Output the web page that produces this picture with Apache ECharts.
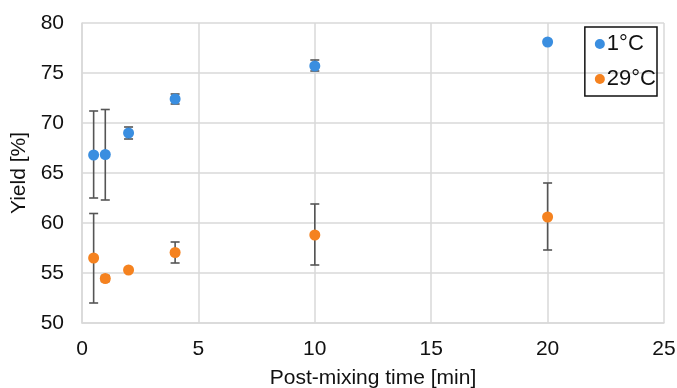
<!DOCTYPE html>
<html>
<head>
<meta charset="utf-8">
<script src="https://cdn.jsdelivr.net/npm/echarts@6/dist/echarts.min.js"></script>
<style>
  html, body { margin: 0; padding: 0; background: #fff; }
  #chart { width: 677px; height: 388px; }
</style>
</head>
<body>
<div id="chart"></div>
<script>
// post-mixing time [min]
var times = [0.5, 1, 2, 4, 10, 20];

// 1 °C
var yield1 = [66.8, 66.85, 69.0, 72.4, 75.7, 78.1];
var low1   = [62.5, 62.3, 68.4, 71.9, 75.2, 78.1];
var high1  = [71.2, 71.35, 69.6, 72.9, 76.3, 78.1];

// 29 °C
var yield29 = [56.5, 54.45, 55.3, 57.05, 58.8, 60.6];
var low29   = [52.0, 54.15, 55.3, 56.0, 55.8, 57.3];
var high29  = [60.95, 54.75, 55.3, 58.1, 61.9, 64.0];

var blue = '#3a8ee0';
var orange = '#f5821f';

function pairs(xs, ys) {
  return xs.map(function (x, i) { return [x, ys[i]]; });
}
function bars(xs, lo, hi) {
  return xs.map(function (x, i) { return [x, lo[i], hi[i]]; });
}

// error bar drawn via custom series
function renderErr(params, api) {
  var x = api.value(0);
  var top = api.coord([x, api.value(2)]);
  var bot = api.coord([x, api.value(1)]);
  if (Math.abs(bot[1] - top[1]) < 2) return null;
  var w = 4.5;
  var style = { stroke: '#555', lineWidth: 1.6 };
  return {
    type: 'group',
    children: [
      { type: 'line', shape: { x1: top[0], y1: top[1], x2: bot[0], y2: bot[1] }, style: style },
      { type: 'line', shape: { x1: top[0] - w, y1: top[1], x2: top[0] + w, y2: top[1] }, style: style },
      { type: 'line', shape: { x1: bot[0] - w, y1: bot[1], x2: bot[0] + w, y2: bot[1] }, style: style }
    ]
  };
}

var font = 'Liberation Sans';
var myChart = echarts.init(document.getElementById('chart'));
var option = {
  animation: false,
  grid: { left: 82, right: 13, top: 23, bottom: 65, outerBoundsMode: 'none', containLabel: false },
  legend: {
    orient: 'vertical',
    right: 20, top: 27,
    data: ['1°C', '29°C'],
    icon: 'circle',
    itemWidth: 10, itemHeight: 10,
    itemGap: 13,
    padding: [6, 1, 6, 10],
    borderColor: '#111', borderWidth: 1.5,
    textStyle: { fontFamily: font, fontSize: 22, color: '#111', padding: [0, 0, 0, -3] }
  },
  xAxis: {
    type: 'value', min: 0, max: 25, interval: 5,
    name: 'Post-mixing time [min]',
    nameLocation: 'middle', nameGap: 45,
    nameTextStyle: { fontFamily: font, fontSize: 21, color: '#111' },
    axisLine: { show: true, lineStyle: { color: '#d9d9d9', width: 1.5 } },
    axisTick: { show: false },
    axisLabel: { fontFamily: font, fontSize: 21, color: '#111', margin: 16 },
    splitLine: { lineStyle: { color: '#d9d9d9', width: 1.5 } }
  },
  yAxis: {
    type: 'value', min: 50, max: 80, interval: 5,
    name: 'Yield [%]',
    nameLocation: 'middle', nameGap: 47, nameRotate: 90,
    nameTextStyle: { fontFamily: font, fontSize: 21, color: '#111' },
    axisLine: { show: true, lineStyle: { color: '#d9d9d9', width: 1.5 } },
    axisTick: { show: false },
    axisLabel: { fontFamily: font, fontSize: 21, color: '#111', margin: 18 },
    splitLine: { lineStyle: { color: '#d9d9d9', width: 1.5 } }
  },
  series: [
    {
      type: 'custom', name: 'err1', renderItem: renderErr,
      data: bars(times, low1, high1), z: 2, silent: true
    },
    {
      type: 'custom', name: 'err29', renderItem: renderErr,
      data: bars(times, low29, high29), z: 2, silent: true
    },
    {
      name: '1°C', type: 'scatter', symbolSize: 11,
      itemStyle: { color: blue, opacity: 1 },
      data: pairs(times, yield1), z: 3
    },
    {
      name: '29°C', type: 'scatter', symbolSize: 11,
      itemStyle: { color: orange, opacity: 1 },
      data: pairs(times, yield29), z: 3
    }
  ]
};
myChart.setOption(option);
</script>
</body>
</html>
